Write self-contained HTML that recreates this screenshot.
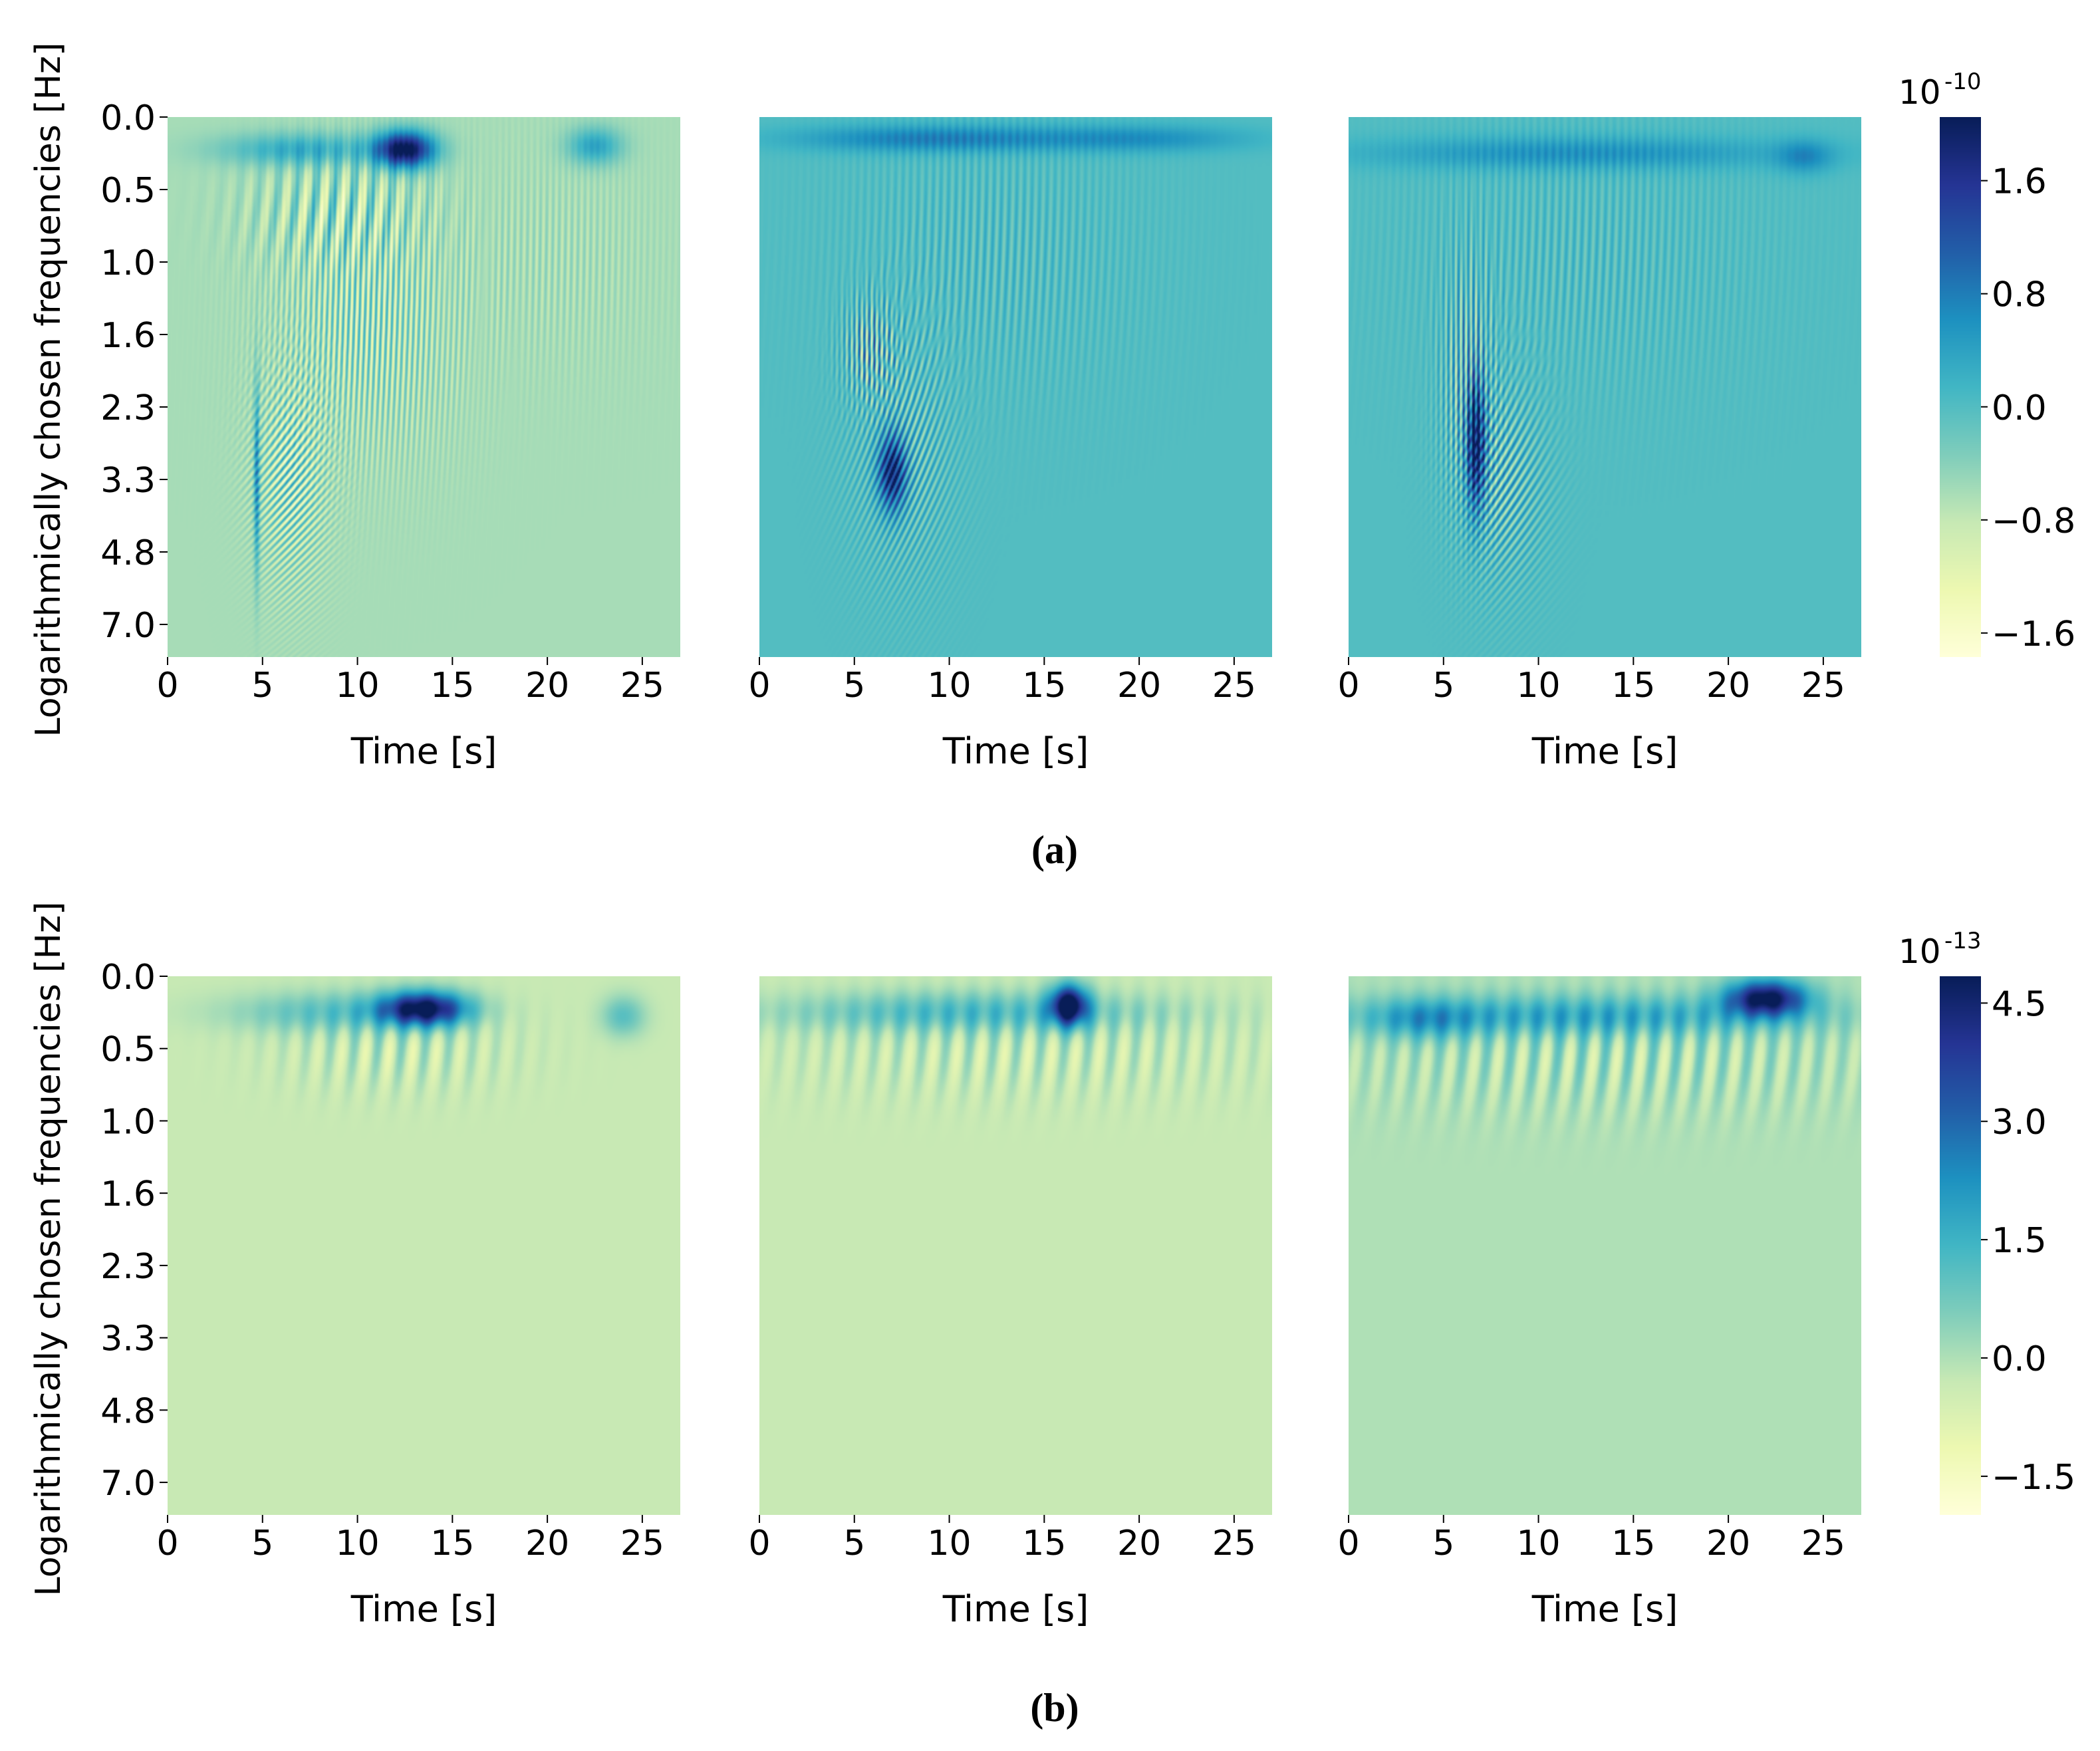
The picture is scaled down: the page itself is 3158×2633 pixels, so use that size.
<!DOCTYPE html>
<html><head><meta charset="utf-8"><style>
html,body{margin:0;padding:0;background:#fff}
#root{position:relative;width:3158px;height:2633px;overflow:hidden;background:#fff}
canvas{position:absolute}
svg{position:absolute;left:0;top:0}
text{font-family:"DejaVu Sans","Liberation Sans",sans-serif;fill:#000}
</style></head><body>
<div id="root">
<svg id="ov" width="3158" height="2633"></svg>
</div>
<script>
// ---- data ----
const xTicks = [0,5,10,15,20,25];
const yTickLabels = ["0.0","0.5","1.0","1.6","2.3","3.3","4.8","7.0"];
const cbTicksA = [1.6,0.8,0.0,-0.8,-1.6];
const cbTicksB = [4.5,3.0,1.5,0.0,-1.5];
const rangeA = [-1.77,2.05];
const rangeB = [-1.99,4.84];
const bgValues = [-0.6,0.0,0.0,-0.3,-0.3,0.0];
// features: [t, rowIndex, sigmaT, sigmaRow, amplitude, stripeFreqT, stripeFreqRow]
const featA1 = [[12.5,0.45,1.1,0.18,2.7,0,0],[7,0.45,3,0.16,0.9,0,0],[22.5,0.4,1.0,0.18,1.0,0,0],[10.5,2.8,3.2,1.2,0.9,3.5,0.08],[9,1.3,3,0.5,0.8,1.0,0.2],[6.5,5.0,1.3,1.0,1.1,2.5,0.8],[20,2,4,1.0,0.25,3,0.05],[4.7,5.0,0.1,0.9,1.3,0,0]];
const featA2 = [[9,0.3,5,0.13,0.8,0,0],[20,0.3,4,0.13,0.6,0,0],[7,4.9,0.5,0.35,1.9,0,0],[5.8,3.2,1.0,0.5,1.3,3.8,0],[7.5,4.6,1.8,1.2,0.8,3,0.5],[12,2,5,1.2,0.35,2.5,0.1]];
const featA3 = [[12,0.5,8,0.16,0.6,0,0],[24,0.55,1,0.16,0.6,0,0],[6.7,4.5,0.35,0.6,2.1,0,0],[6.3,3.6,1.0,1.2,1.2,3.8,0],[8,5,1.6,1,0.9,2.5,0.6],[12,2,6,1.2,0.3,2.5,0.1]];
const featB1 = [[13.5,0.45,1.6,0.17,5.0,0,0],[9,0.5,4,0.2,1.4,0,0],[24,0.55,0.8,0.2,1.4,0,0],[12,1.0,4,0.4,0.9,0.8,0.15]];
const featB2 = [[16.3,0.4,0.7,0.2,5.3,0,0],[11,0.5,7,0.2,1.6,0,0],[14,1.0,9,0.45,0.8,0.8,0.15]];
const featB3 = [[22,0.3,1.5,0.18,4.8,0,0],[12,0.55,9,0.2,1.8,0,0],[4,0.6,1.8,0.2,1.3,0,0],[14,1.1,10,0.5,1.0,0.8,0.15]];
const featSets = [featA1,featA2,featA3,featB1,featB2,featB3];

// ---- layout ----
const PX=[252,1142,2028], PW=771, TOPS=[176,1468], PH=[812,810];
const TMAX=27.0, ROWS=7.45;
const CBX=2917, CBW=62;
const stops=["#ffffd9","#edf8b1","#c7e9b4","#7fcdbb","#41b6c4","#1d91c0","#225ea8","#253494","#081d58"].map(h=>[parseInt(h.slice(1,3),16),parseInt(h.slice(3,5),16),parseInt(h.slice(5,7),16)]);
function cmap(f){f=Math.max(0,Math.min(1,f));const p=f*(stops.length-1);const i=Math.min(stops.length-2,Math.floor(p));const u=p-i;return [0,1,2].map(k=>stops[i][k]+(stops[i+1][k]-stops[i][k])*u);}
const root=document.getElementById('root');
const svg=document.getElementById('ov');
const NS="http://www.w3.org/2000/svg";
function el(tag,attrs,txt){const e=document.createElementNS(NS,tag);for(const k in attrs)e.setAttribute(k,attrs[k]);if(txt!==undefined)e.textContent=txt;svg.appendChild(e);return e;}

for(let p=0;p<6;p++){
  const row=Math.floor(p/3), col=p%3;
  const x0=PX[col], y0=TOPS[row], h=PH[row];
  const range=row?rangeB:rangeA;
  const feats=featSets[p], bg=bgValues[p];
  const W=Math.round(PW/2), H=Math.round(h/2);
  const c=document.createElement('canvas');
  
  
  c.width=W;c.height=H;
  c.style.left=x0+'px';c.style.top=y0+'px';c.style.width=PW+'px';c.style.height=h+'px';
  root.insertBefore(c,svg);
  const ctx=c.getContext('2d');const img=ctx.createImageData(W,H);
  for(let j=0;j<H;j++){const r=(j+0.5)/H*ROWS;
    for(let i=0;i<W;i++){const t=(i+0.5)/W*TMAX;let v=bg;
      for(const f of feats){const dt=(t-f[0])/f[2],dr=(r-f[1])/f[3];const e=Math.exp(-0.5*(dt*dt+dr*dr));if(e<1e-4)continue;
        v+= f[5]||f[6] ? f[4]*e*Math.cos(2*Math.PI*(f[5]*t+f[6]*r*r)) : f[4]*e;}
      const col3=cmap((v-range[0])/(range[1]-range[0]));const k=(j*W+i)*4;
      img.data[k]=col3[0];img.data[k+1]=col3[1];img.data[k+2]=col3[2];img.data[k+3]=255;}}
  ctx.putImageData(img,0,0);
  for(const tv of xTicks){const x=x0+tv/TMAX*PW;
    const tk=el('line',{x1:x,x2:x,y1:y0+h,y2:y0+h+12,stroke:'#000','stroke-width':2});
    
    const lb=el('text',{x:x,y:y0+h+60,'font-size':52,'text-anchor':'middle'},String(tv));
    }
  const xt=el('text',{x:x0+PW/2,y:y0+h+160,'font-size':54,'text-anchor':'middle'},'Time [s]');
  
  if(col===0){
    yTickLabels.forEach((s,i)=>{const y=y0+i*(h/ROWS);
      const tk=el('line',{x1:x0-12,x2:x0,y1:y,y2:y,stroke:'#000','stroke-width':2});
      
      const lb=el('text',{x:x0-18,y:y+19,'font-size':52,'text-anchor':'end'},s);
      });
    const cy=y0+410;
    const yt=el('text',{x:0,y:0,'font-size':52,'text-anchor':'middle',transform:`translate(90,${cy}) rotate(-90)`},'Logarithmically chosen frequencies [Hz]');
    
  }
}
[0,1].forEach(row=>{
  const y0=TOPS[row],h=PH[row],range=row?rangeB:rangeA,ticks=row?cbTicksB:cbTicksA;
  const c=document.createElement('canvas');
  
  
  c.width=1;c.height=h;c.style.left=CBX+'px';c.style.top=y0+'px';c.style.width=CBW+'px';c.style.height=h+'px';
  root.insertBefore(c,svg);
  const ctx=c.getContext('2d');
  for(let j=0;j<h;j++){const col3=cmap(1-(j+0.5)/h);ctx.fillStyle=`rgb(${col3.map(Math.round).join(',')})`;ctx.fillRect(0,j,1,1);}
  for(const tv of ticks){const y=y0+(range[1]-tv)/(range[1]-range[0])*h;
    const tk=el('line',{x1:CBX+CBW,x2:CBX+CBW+10,y1:y,y2:y,stroke:'#000','stroke-width':2});
    
    const lb=el('text',{x:CBX+CBW+16,y:y+19,'font-size':52},(tv<0?'\u2212':'')+Math.abs(tv).toFixed(1));
    }
  const ex=el('text',{x:2855,y:y0-20,'font-size':50},'10');
  
  const sup=el('text',{x:2924,y:y0-42,'font-size':34},row?'-13':'-10');
  
});
const ca=el('text',{x:1586,y:1298,'font-size':60,'text-anchor':'middle','font-weight':'bold',style:'font-family:"Liberation Serif",serif'},'(a)');

const cb=el('text',{x:1586,y:2588,'font-size':60,'text-anchor':'middle','font-weight':'bold',style:'font-family:"Liberation Serif",serif'},'(b)');

</script>
</body></html>
